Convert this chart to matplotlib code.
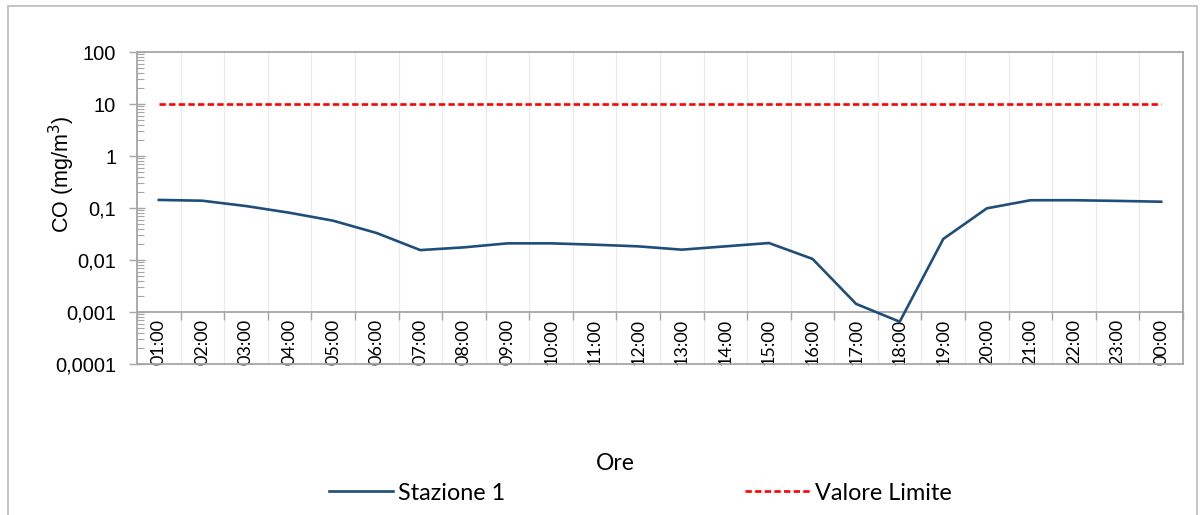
import numpy as np
import matplotlib
matplotlib.use("Agg")
import matplotlib.pyplot as plt
from matplotlib.patches import Rectangle
from matplotlib.ticker import LogLocator, NullFormatter

# dati orari CO
ore = ["01:00", "02:00", "03:00", "04:00", "05:00", "06:00", "07:00", "08:00",
       "09:00", "10:00", "11:00", "12:00", "13:00", "14:00", "15:00", "16:00",
       "17:00", "18:00", "19:00", "20:00", "21:00", "22:00", "23:00", "00:00"]
stazione1 = [0.143, 0.138, 0.109, 0.081, 0.057, 0.033, 0.0155, 0.0175,
             0.0209, 0.0209, 0.0197, 0.0183, 0.0158, 0.0183, 0.0212, 0.0105,
             0.00143, 0.00065, 0.0254, 0.0986, 0.141, 0.141, 0.137, 0.132]
valore_limite = [10] * 24
yticks = [1e-4, 1e-3, 1e-2, 1e-1, 1, 10, 100]
ylabels = ["0,0001", "0,001", "0,01", "0,1", "1", "10", "100"]

grigio = "#A6A6A6"
blu = "#1F4E79"

W, H = 1200, 515
fig = plt.figure(figsize=(W / 100, H / 100), dpi=100)
ax = fig.add_axes([137 / W, 1 - 364 / H, (1183 - 137) / W, (364 - 52) / H])

x = np.arange(len(ore))
ax.plot(x, stazione1, color=blu, lw=1.9, label="Stazione 1", zorder=3)
ax.plot(x, valore_limite, color="#FF0000", lw=1.9, ls=(0, (2.4, 1.25)),
        label="Valore Limite", zorder=3)

ax.set_yscale("log")
ax.set_ylim(1e-4, 100)
ax.set_xlim(-0.5, len(ore) - 0.5)

# asse y
ax.set_yticks(yticks)
ax.set_yticklabels(ylabels, family="Liberation Sans", fontsize=14.5)
ax.yaxis.set_minor_locator(LogLocator(base=10, subs=np.arange(2, 10), numticks=20))
ax.yaxis.set_minor_formatter(NullFormatter())
ax.tick_params(axis="y", which="major", direction="inout", length=12, width=1,
               color=grigio, pad=9)
ax.tick_params(axis="y", which="minor", direction="in", length=5, width=0.8,
               color=grigio)
ax.set_ylabel("CO (mg/m$^3$)", family="Liberation Sans", fontsize=15.5)
ax.yaxis.set_label_coords(77 / W, 1 - 174 / H, transform=fig.transFigure)

# asse x che incrocia a 0,001
ax.spines["bottom"].set_position(("data", 1e-3))
ax.set_xticks(x)
ax.set_xticklabels(ore, rotation=90, family="Lato", fontsize=13)
ax.set_xticks(np.arange(-0.5, len(ore)), minor=True)
ax.tick_params(axis="x", which="major", length=0, pad=5)
ax.tick_params(axis="x", which="minor", direction="out", length=6, width=1,
               color=grigio)
ax.grid(which="minor", axis="x", color="#EBEBEB", lw=0.9, zorder=0)

for s in ax.spines.values():
    s.set_color(grigio)
    s.set_linewidth(1.3)
ax.axhline(1e-4, color=grigio, lw=1.3, clip_on=False)

fig.text(615 / W, 1 - 463 / H, "Ore", ha="center", va="center",
         family="Lato", fontsize=16.5)

fig.legend(loc="center", bbox_to_anchor=(640 / W, 1 - 493 / H), ncol=2,
           frameon=False, prop={"family": "Lato", "size": 16.8},
           handlelength=2.75, handletextpad=0.22, columnspacing=10.3)

# cornice esterna
fig.patches.append(Rectangle((8 / W, -0.1), (1197 - 8) / W, 1.1 - 6 / H,
                             transform=fig.transFigure, fill=False,
                             edgecolor="#BFBFBF", lw=1.3))

fig.savefig("out.png", dpi=100)
